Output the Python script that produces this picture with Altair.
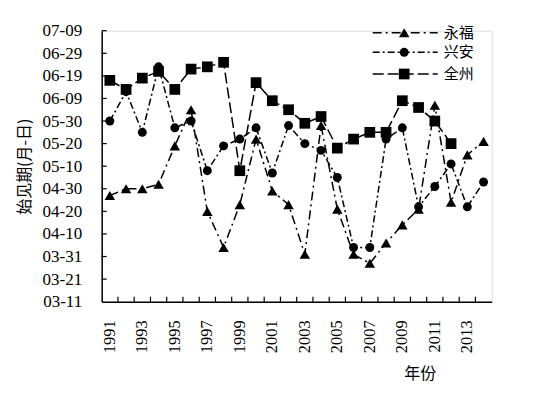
import altair as alt
import pandas as pd
from datetime import date

years = list(range(1991, 2015))
series_names = ["永福", "兴安", "全州"]
yongfu = ["04-27", "04-30", "04-30", "05-02", "05-19", "06-04", "04-20", "04-04",
          "04-23", "05-22", "04-29", "04-23", "04-01", "05-28", "04-21", "04-01",
          "03-28", "04-06", "04-14", "04-21", "06-06", "04-24", "05-15", "05-21"]
xingan = ["05-30", "06-12", "05-25", "06-23", "05-27", "05-30", "05-08", "05-19",
          "05-22", "05-27", "05-07", "05-28", "05-20", "05-17", "05-05", "04-04",
          "04-04", "05-22", "05-27", "04-22", "05-01", "05-11", "04-22", "05-03"]
quanzhou = ["06-17", "06-13", "06-18", "06-21", "06-13", "06-22", "06-23", "06-25",
            "05-08", "06-16", "06-08", "06-04", "05-29", "06-01", "05-18", "05-22",
            "05-25", "05-25", "06-08", "06-05", "05-30", "05-20", None, None]
y_tick_labels = ["03-11", "03-21", "03-31", "04-10", "04-20", "04-30", "05-10",
                 "05-20", "05-30", "06-09", "06-19", "06-29", "07-09"]


def doy(s):
    m, d = s.split("-")
    return date(2001, int(m), int(d)).timetuple().tm_yday


rows = []
for name, vals in zip(series_names, [yongfu, xingan, quanzhou]):
    for yr, v in zip(years, vals):
        if v is not None:
            rows.append({"year": yr, "series": name, "doy": doy(v), "date": v})
df = pd.DataFrame(rows)

tick_doy = [doy(s) for s in y_tick_labels]
W, H = 390, 271

yscale = alt.Scale(domain=[tick_doy[0], tick_doy[-1]], nice=False, zero=False)
xscale = alt.Scale(type="band", domain=years, paddingInner=0, paddingOuter=0)

shapes = {"永福": "triangle-up", "兴安": "circle", "全州": "square"}
sizes = {"永福": 110, "兴安": 80, "全州": 115}
dashes = {"永福": [9, 4, 2, 4], "兴安": [7, 3, 2, 3], "全州": [11, 4]}

x_axis = alt.Axis(
    labelExpr="datum.value % 2 == 1 ? datum.label : ''",
    labelAngle=270, labelFont="Liberation Serif", labelFontSize=16.5,
    labelColor="black", labelPadding=18, ticks=False, domainColor="black",
    domainWidth=1.5, grid=False, title="年份", titleFont="Noto Sans CJK SC",
    titleFontSize=16, titleFontWeight="normal", titleColor="black",
    titleX=318, titleY=72, titleAlign="center", titleBaseline="middle",
)
y_axis = alt.Axis(
    values=tick_doy,
    labelExpr="timeFormat(datetime(2001, 0, datum.value), '%m-%d')",
    labelFont="Liberation Serif", labelFontSize=17, labelColor="black",
    labelPadding=20, ticks=False, domainColor="black", domainWidth=1.5,
    grid=False, title="始见期(月-日)", titleFont="Noto Sans CJK SC",
    titleFontSize=16, titleFontWeight="normal", titleColor="black",
    titleX=-77, titleY=H / 2, titleBaseline="middle", titleAlign="center",
)


def xenc(band=0.5):
    return alt.X("year:O", scale=xscale, axis=x_axis, bandPosition=band)


def yenc():
    return alt.Y("doy:Q", scale=yscale, axis=y_axis)


layers = []

# inner tick marks
ytick_df = pd.DataFrame({"doy": tick_doy[1:]})
layers.append(alt.Chart(ytick_df).mark_rule(color="black", strokeWidth=1.2).encode(
    y=yenc(), x=alt.value(0), x2=alt.value(5)))
xtick_df = pd.DataFrame({"year": years[1:]})
layers.append(alt.Chart(xtick_df).mark_rule(color="black", strokeWidth=1.2).encode(
    x=xenc(0), y=alt.value(H), y2=alt.value(H - 5)))

for name in series_names:
    sub = df[df.series == name]
    layers.append(alt.Chart(sub).mark_line(
        color="black", strokeWidth=1.5, strokeDash=dashes[name]).encode(
        x=xenc(), y=yenc(), order="year:Q"))
    layers.append(alt.Chart(sub).mark_point(
        shape=shapes[name], filled=True, color="black", opacity=1,
        size=sizes[name]).encode(x=xenc(), y=yenc()))

# legend
legend_df = pd.DataFrame({"series": series_names})
leg_y = [2, 21.6, 43.3]
for name, ly in zip(series_names, leg_y):
    one = legend_df[legend_df.series == name]
    layers.append(alt.Chart(one).mark_rule(
        color="black", strokeWidth=1.5, strokeDash=dashes[name]).encode(
        x=alt.value(271), x2=alt.value(336), y=alt.value(ly)))
    layers.append(alt.Chart(one).mark_point(
        shape=shapes[name], filled=True, color="black", opacity=1,
        size=sizes[name]).encode(x=alt.value(302.5), y=alt.value(ly)))
    layers.append(alt.Chart(one).mark_text(
        align="left", baseline="middle", font="Noto Sans CJK SC", fontSize=15,
        color="black").encode(
        x=alt.value(342), y=alt.value(ly), text="series:N"))

chart = alt.layer(*layers).properties(
    width=W, height=H,
    autosize=alt.AutoSizeParams(type="none"),
    padding={"left": 93.7, "top": 22.7, "right": 35, "bottom": 90},
).configure_view(stroke=None).configure(background="white")

chart.save("out.html", embed_options={"renderer": "svg", "actions": False})
